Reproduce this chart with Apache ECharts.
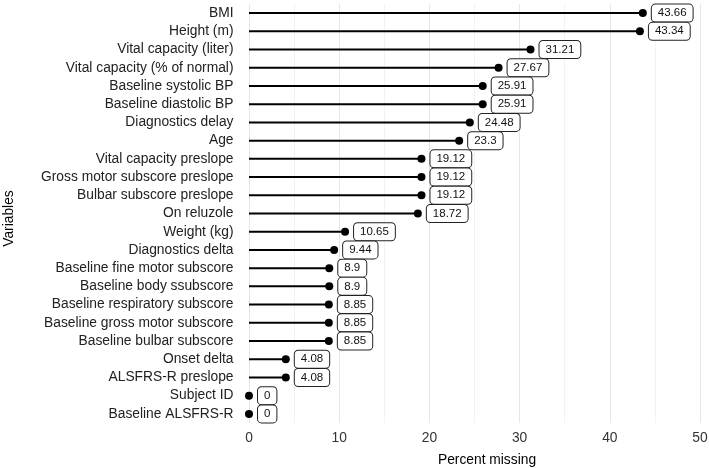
<!DOCTYPE html>
<html>
<head>
<meta charset="utf-8">
<script src="https://cdn.jsdelivr.net/npm/echarts@6/dist/echarts.min.js"></script>
<style>html,body{margin:0;padding:0;background:#fff}#c{width:709px;height:468px}</style>
</head>
<body>
<div id="c"></div>
<script>
const categories = [
  "BMI", "Height (m)", "Vital capacity (liter)", "Vital capacity (% of normal)",
  "Baseline systolic BP", "Baseline diastolic BP", "Diagnostics delay", "Age",
  "Vital capacity preslope", "Gross motor subscore preslope", "Bulbar subscore preslope",
  "On reluzole", "Weight (kg)", "Diagnostics delta", "Baseline fine motor subscore",
  "Baseline body ssubscore", "Baseline respiratory subscore", "Baseline gross motor subscore",
  "Baseline bulbar subscore", "Onset delta", "ALSFRS-R preslope", "Subject ID", "Baseline ALSFRS-R"
];
const percentMissing = [
  43.66, 43.34, 31.21, 27.67, 25.91, 25.91, 24.48, 23.3,
  19.12, 19.12, 19.12, 18.72, 10.65, 9.44, 8.9, 8.9,
  8.85, 8.85, 8.85, 4.08, 4.08, 0, 0
];
const xTicks = [0, 10, 20, 30, 40, 50];

const FONT = "'Liberation Sans', Arial, sans-serif";
const chart = echarts.init(document.getElementById('c'));
chart.setOption({
  animation: false,
  grid: { left: 249, right: 9, top: 4, bottom: 45, containLabel: false, outerBoundsMode: 'none' },
  xAxis: {
    type: 'value',
    min: xTicks[0], max: xTicks[xTicks.length - 1], interval: 10,
    name: 'Percent missing', nameLocation: 'middle', nameGap: 30,
    nameTextStyle: { fontFamily: FONT, fontSize: 13.8, color: '#000', padding: [0, 0, 0, 25] },
    axisLine: { show: false }, axisTick: { show: false },
    axisLabel: { fontFamily: FONT, fontSize: 13.8, color: '#333', margin: 8 },
    splitLine: { show: true, lineStyle: { color: '#e6e6e6', width: 1 } },
    minorTick: { show: false, splitNumber: 2 },
    minorSplitLine: { show: true, lineStyle: { color: '#f2f2f2', width: 1 } }
  },
  yAxis: {
    type: 'category', data: categories, inverse: true,
    name: 'Variables', nameLocation: 'middle', nameGap: 233, nameRotate: 90,
    nameTextStyle: { fontFamily: FONT, fontSize: 13.8, color: '#000', padding: [0, 10, 0, 0] },
    axisLine: { show: false }, axisTick: { show: false },
    axisLabel: { fontFamily: FONT, fontSize: 13.8, color: '#222', margin: 15.5 },
    splitLine: { show: false }
  },
  series: [
    {
      type: 'bar', data: percentMissing, barWidth: 2,
      itemStyle: { color: '#000' }, silent: true, z: 2
    },
    {
      type: 'scatter', symbol: 'circle', symbolSize: 8,
      data: percentMissing.map((v, i) => [v, categories[i]]),
      itemStyle: { color: '#000', opacity: 1 }, z: 3,
      label: {
        show: true, position: 'right', distance: 5,
        formatter: p => String(p.value[0]),
        fontFamily: FONT, fontSize: 11.5, color: '#111',
        backgroundColor: '#fff', borderColor: '#222', borderWidth: 1,
        borderRadius: 3.5, padding: [3, 6, 2, 6]
      }
    }
  ]
});
</script>
</body>
</html>
